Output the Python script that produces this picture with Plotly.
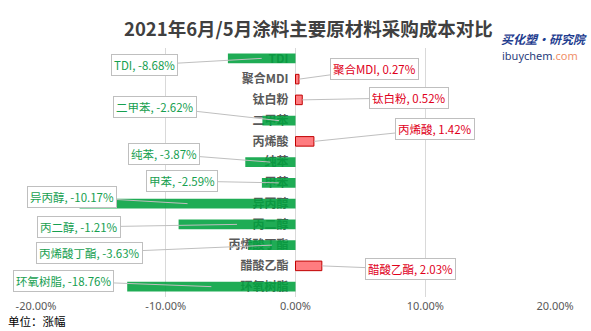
import plotly.graph_objects as go

# ---- data ----
categories = ["TDI", "聚合MDI", "钛白粉", "二甲苯", "丙烯酸", "纯苯", "甲苯",
              "异丙醇", "丙二醇", "丙烯酸丁酯", "醋酸乙酯", "环氧树脂"]
# bar lengths as drawn in the picture (fraction)
bar_values = [-0.0521, 0.0027, 0.0052, -0.0255, 0.0142, -0.0387, -0.0259,
              -0.1664, -0.0901, -0.0363, 0.0203, -0.1297]
# values printed in the data labels (%)
label_values = [-8.68, 0.27, 0.52, -2.62, 1.42, -3.87, -2.59,
                -10.17, -1.21, -3.63, 2.03, -18.76]
x_tick_vals = [-0.2, -0.1, 0.0, 0.1, 0.2]
x_tick_text = ["-20.00%", "-10.00%", "0.00%", "10.00%", "20.00%"]

# ---- label box placement (layout, data coords) ----
label_box_x = [-0.1162, 0.0612, 0.0874, -0.1081, 0.1074, -0.1014, -0.0873,
               -0.1721, -0.1667, -0.159, 0.0888, -0.179]
label_box_y = [0.32, 0.50, 1.90, 2.33, 3.40, 4.60, 5.91, 6.68, 8.13, 9.37, 10.17, 10.73]

GREEN = "rgba(0,160,62,0.88)"
PINK = "#ff7c80"
DARKRED = "#c00000"

fill_colors = [PINK if v > 0 else GREEN for v in bar_values]
line_colors = [DARKRED if v > 0 else "rgba(0,160,62,0.0)" for v in bar_values]

fig = go.Figure()
fig.add_trace(go.Bar(
    y=categories, x=bar_values, orientation="h", width=0.46,
    marker=dict(color=fill_colors, line=dict(color=line_colors, width=1)),
    hoverinfo="skip", showlegend=False,
))

annotations = []
for cat, bv, lv, bx, by in zip(categories, bar_values, label_values, label_box_x, label_box_y):
    pos = lv > 0
    tip_x = bv if pos else bv / 2
    annotations.append(dict(
        x=tip_x, y=cat, xref="x", yref="y",
        ax=bx, ay=by, axref="x", ayref="y",
        text=f"{cat}, {lv:.2f}%",
        showarrow=True, arrowhead=0, arrowwidth=1, arrowcolor="#bfbfbf",
        font=dict(family="Noto Sans CJK SC", size=11.5, color="#e0001b" if pos else "#17a050"),
        bgcolor="white", bordercolor="#bfbfbf", borderwidth=1, borderpad=2,
    ))

# title, logo, unit
annotations += [
    dict(text="<b>2021年6月/5月涂料主要原材料采购成本对比</b>", xref="paper", yref="paper",
         x=0.526, y=1.082, xanchor="center", yanchor="middle", showarrow=False,
         font=dict(family="Noto Sans CJK SC", size=18.5, color="#404040")),
    dict(text="<b><i>买化塑·研究院</i></b>", xref="paper", yref="paper",
         x=0.892, y=1.04, xanchor="left", yanchor="middle", showarrow=False,
         font=dict(family="Noto Sans CJK SC", size=12, color="#1f3d8f")),
    dict(text="<span style='color:#2a3d7c'>ibuychem</span><span style='color:#f0906a'>.com</span>",
         xref="paper", yref="paper", x=0.894, y=0.97, xanchor="left", yanchor="middle",
         showarrow=False, font=dict(family="Noto Sans", size=11)),
    dict(text="单位：涨幅", xref="paper", yref="paper", x=-0.058, y=-0.1365,
         xanchor="left", yanchor="bottom", showarrow=False,
         font=dict(family="Noto Sans CJK SC", size=11.5, color="#000000")),
]

fig.update_layout(
    width=591, height=331,
    margin=dict(l=36, r=36, t=48, b=34),
    paper_bgcolor="white", plot_bgcolor="white",
    annotations=annotations,
    xaxis=dict(range=[-0.2, 0.2], tickvals=x_tick_vals, ticktext=x_tick_text,
               showgrid=True, gridcolor="#d9d9d9", gridwidth=1, zeroline=False,
               showline=False, ticks="", ticklabelstandoff=1,
               tickfont=dict(family="Noto Sans", size=11, color="#595959")),
    yaxis=dict(type="category", categoryorder="array", categoryarray=categories,
               autorange="reversed", anchor="free", position=0.5,
               showgrid=False, zeroline=False, showline=False, ticks="",
               layer="below traces", ticklabelstandoff=7,
               tickfont=dict(family="Noto Sans CJK SC", size=12, color="#595959", weight="bold")),
    bargap=0.5,
)

fig.write_html("out.html")
